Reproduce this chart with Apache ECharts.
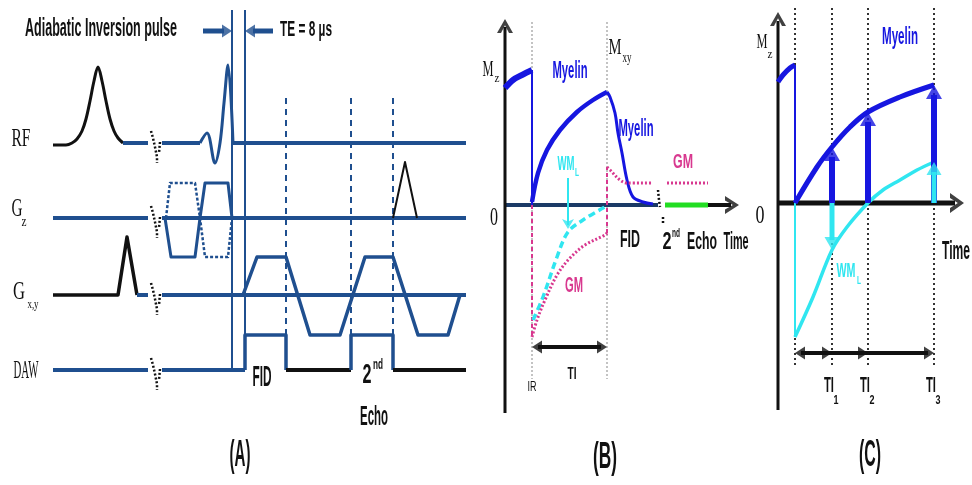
<!DOCTYPE html>
<html>
<head>
<meta charset="utf-8">
<script src="https://cdn.jsdelivr.net/npm/echarts@6/dist/echarts.min.js"></script>
<style>
  html, body { margin: 0; padding: 0; background: #fff; }
  #chart { width: 972px; height: 485px; }
</style>
</head>
<body>
<div id="chart"></div>
<script>
// ---------------- Panel A: pulse sequence, points are [time, amplitude] ----------------
const rfInversion = [[53,-2],[66,-2],[72,0],[77,4],[82,12],[86,24],[90,42],[94,62],[98,76],[102,62],[106,42],[110,24],[114,12],[118,5],[123,0]];
const rfLead      = [[123,0],[148,0]];
const rfWait      = [[162,0],[200,0]];
const rfSinc      = [[200,0],[207,10],[215,-20],[220,0],[224,40],[228,78],[233,0]];
const rfTail      = [[233,0],[466,0]];

const gzLead      = [[53,0],[148,0]];
const gzBase      = [[162,0],[466,0]];
const gzSolid     = [[165,0],[171,-39],[195,-39],[200,0],[205,35],[228,35],[232,0]];
const gzDashed    = [[166,0],[170,35],[195,35],[200,0],[205,-39],[228,-39],[232,0]];
const gzCrusher   = [[393,0],[405,56],[417,0]];

const gxyLead     = [[53,0],[118,0],[127,58],[137,0]];
const gxyLeadTail = [[137,0],[148,0]];
const gxyBase     = [[162,0],[466,0]];
const gxyReadout  = [[243,0],[257,38],[286,38],[310,-40],[340,-40],[365,38],[393,38],[418,-40],[448,-40],[460,0]];

const dawLead     = [[53,0],[148,0]];
const dawWait     = [[162,0],[245,0]];
const dawFid      = [[245,0],[245,35],[286,35],[286,0]];
const dawGap      = [[286,0],[351,0]];
const dawEcho     = [[351,0],[351,35],[393,35],[393,0]];
const dawTail     = [[393,0],[466,0]];

const teTimes     = [232, 245];
const echoTimes   = [286, 351, 393];
const breakStrokeA = [[151,12],[153,5],[155,-4],[157,-14],[157,-20]];
const breakStrokeB = [[160,1],[159,-10]];

// ---------------- Panel B: magnetization after inversion, [time, M] ----------------
const bMyelinPre  = [[0,117],[8,125],[17,130],[27,135]];
const bMyelinRec  = [[27,3],[33,32],[42,55],[55,75],[72,93],[88,105],[102,113]];
const bMyelinFid  = [[102,113],[105,108],[110,92],[113,72],[117,52],[122,25],[128,8],[138,3],[148,1]];
const bWmRec      = [[28,-115],[38,-92],[52,-52],[63,-27],[78,-15],[100,-2]];
const bGmRec      = [[27,-132],[32,-115],[40,-95],[52,-70],[65,-53],[80,-40],[100,-30],[102,-28]];
const bGmFid      = [[102,38],[107,33],[115,25],[122,22],[148,22]];
const bGmEcho     = [[162,22],[203,22]];
const bIR = 27, bTI = 102;

// ---------------- Panel C: sampling at several inversion times, [time, M] ----------------
const cMyelinPre  = [[0,121],[5,128],[12,135],[17,138]];
const cMyelinRec  = [[17,0],[39,36],[54,56],[72,76],[90,91],[122,106],[156,118]];
const cWmRec      = [[17,-134],[35,-94],[54,-47],[69,-24],[90,0],[105,13],[122,23],[139,33],[156,41]];
const cIR = 17;
const cTIs = [54, 90, 156];

// ---------------- styles ----------------
const A_BLUE = '#1f4f8f';
const INK = '#111';
const MYELIN = '#1616e0';
const CYAN = '#30e6f0';
const MAGENTA = '#d8388f';
const GREEN = '#22dd22';
const NAVY = '#1b3a66';
const CHEVRON = 'path://M0,16 L10,0 L20,16 L15,16 L10,7 L5,16 Z';

const ROW = { RF: 342, Gz: 267, Gxy: 190, DAW: 115 };
const onRow = (row, pts) => pts.map(([t, a]) => [t, ROW[row] + a]);

const series = [];
function addLine(panel, data, color, width, dash, z, smooth) {
  series.push({
    type: 'line', xAxisIndex: panel, yAxisIndex: panel, data,
    symbol: 'none', silent: true, animation: false, clip: false, z: z || 3,
    smooth: smooth || false,
    lineStyle: { color, width, type: dash || 'solid', cap: 'butt', join: 'round' }
  });
}
const curve = (panel, data, color, width, dash) => addLine(panel, data, color, width, dash, 3, 0.35);
const heads = [[], [], []];
const ROT = { up: 0, down: 180, left: 90, right: -90 };
const DIR = { up: [0, 1], down: [0, -1], left: [-1, 0], right: [1, 0] };
function addHead(panel, tip, dir, len, wid, color, shape) {
  const d = DIR[dir];
  heads[panel].push({
    value: [tip[0] - d[0] * len / 2, tip[1] - d[1] * len / 2],
    symbol: shape || 'triangle', symbolSize: [wid, len], symbolRotate: ROT[dir],
    itemStyle: { color }
  });
}

// Panel A
curve(0, onRow('RF', rfInversion), INK, 3);
addLine(0, onRow('RF', rfLead), A_BLUE, 4);
addLine(0, onRow('RF', rfWait), A_BLUE, 4);
curve(0, onRow('RF', rfSinc), A_BLUE, 3);
addLine(0, onRow('RF', rfTail), A_BLUE, 4);
addLine(0, onRow('Gz', gzLead), A_BLUE, 4);
addLine(0, onRow('Gz', gzBase), A_BLUE, 4);
addLine(0, onRow('Gz', gzSolid), A_BLUE, 3);
addLine(0, onRow('Gz', gzDashed), A_BLUE, 2.5, [3, 2]);
addLine(0, onRow('Gz', gzCrusher), INK, 2);
addLine(0, onRow('Gxy', gxyLead), INK, 3.5);
addLine(0, onRow('Gxy', gxyLeadTail), A_BLUE, 4);
addLine(0, onRow('Gxy', gxyBase), A_BLUE, 4);
addLine(0, onRow('Gxy', gxyReadout), A_BLUE, 3.5);
addLine(0, onRow('DAW', dawLead), A_BLUE, 4);
addLine(0, onRow('DAW', dawWait), A_BLUE, 4);
addLine(0, onRow('DAW', dawFid), A_BLUE, 3.5);
addLine(0, onRow('DAW', dawGap), INK, 4);
addLine(0, onRow('DAW', dawEcho), A_BLUE, 3.5);
addLine(0, onRow('DAW', dawTail), INK, 4);
teTimes.forEach(t => addLine(0, [[t, 475], [t, ROW.DAW]], A_BLUE, 2));
echoTimes.forEach(t => addLine(0, [[t, 387], [t, ROW.DAW + 35]], A_BLUE, 2, [6, 5], 2));
Object.keys(ROW).forEach(r => {
  addLine(0, onRow(r, breakStrokeA), INK, 2.5, [2, 2]);
  addLine(0, onRow(r, breakStrokeB), INK, 2.5, [2, 2]);
});
addLine(0, [[203, 454], [224, 454]], A_BLUE, 5);
addHead(0, [232, 454], 'right', 10, 13, A_BLUE);
addLine(0, [[273, 454], [253, 454]], A_BLUE, 5);
addHead(0, [245, 454], 'left', 10, 13, A_BLUE);

// Panel B
[bIR, bTI].forEach(t => addLine(1, [[t, 183], [t, -174]], '#888', 1, [2, 2], 1));
addLine(1, [[0, -208], [0, 178]], INK, 3);
addHead(1, [0, 186], 'up', 14, 16, INK, CHEVRON);
addLine(1, [[0, 0], [153, 0]], NAVY, 4, 'solid', 2);
addLine(1, [[160, 0], [203, 0]], GREEN, 5);
addLine(1, [[203, 0], [226, 0]], INK, 4);
addHead(1, [234, 0], 'right', 14, 18, INK, CHEVRON);
addLine(1, [[153, 15], [154, 5], [155, -2]], INK, 2.5, [2, 2]);
addLine(1, [[158, -12], [158, -19]], INK, 2.5, [2, 2]);
curve(1, bMyelinPre, MYELIN, 6);
addLine(1, [[bIR, 135], [bIR, 0]], MYELIN, 2);
curve(1, bMyelinRec, MYELIN, 4.5);
curve(1, bMyelinFid, MYELIN, 3);
addLine(1, [[bIR, 0], [bIR, -132]], MAGENTA, 2, [4, 3]);
curve(1, bWmRec, CYAN, 3.5, [7, 4]);
curve(1, bGmRec, MAGENTA, 3, [2, 2]);
addLine(1, [[bTI, -28], [bTI, 38]], MAGENTA, 2, [4, 3]);
curve(1, bGmFid, MAGENTA, 3, [2, 2]);
addLine(1, bGmEcho, MAGENTA, 3, [2, 2]);
addLine(1, [[63, 27], [63, -20]], CYAN, 2);
addHead(1, [63, -29], 'down', 10, 9, CYAN, 'arrow');
addLine(1, [[bIR + 6, -142], [bTI - 6, -142]], INK, 4);
addHead(1, [bIR, -142], 'left', 10, 13, INK);
addHead(1, [bTI, -142], 'right', 10, 13, INK);

// Panel C
[cIR].concat(cTIs).forEach(t => addLine(2, [[t, 195], [t, -164]], '#333', 2, [2, 3], 1));
addLine(2, [[0, -207], [0, 182]], INK, 3);
addHead(2, [0, 191], 'up', 14, 16, INK, CHEVRON);
addLine(2, [[0, 0], [177, 0]], INK, 5, 'solid', 2);
addHead(2, [186, 0], 'right', 14, 20, INK, CHEVRON);
curve(2, cMyelinPre, MYELIN, 5);
addLine(2, [[cIR, 138], [cIR, 0]], MYELIN, 2);
addLine(2, [[cIR, 0], [cIR, -134]], CYAN, 2);
curve(2, cMyelinRec, MYELIN, 5);
curve(2, cWmRec, CYAN, 3.5);
const valueAt = (pts, t) => pts.find(p => p[0] === t)[1];
cTIs.forEach(t => {
  const m = valueAt(cMyelinRec, t);
  addLine(2, [[t, 0], [t, m - 10]], MYELIN, 6, 'solid', 4);
  addHead(2, [t, m], 'up', 14, 16, MYELIN);
});
[cTIs[0], cTIs[2]].forEach(t => {
  const w = valueAt(cWmRec, t);
  const dir = w < 0 ? 'down' : 'up';
  addLine(2, [[t, 0], [t, w - Math.sign(w) * 10]], CYAN, 5, 'solid', 5);
  addHead(2, [t, w], dir, 13, 15, CYAN);
});
addLine(2, [[cIR + 6, -150], [cTIs[2] - 6, -150]], INK, 4);
addHead(2, [cIR, -150], 'left', 10, 13, INK);
cTIs.forEach(t => addHead(2, [t, -150], 'right', 10, 13, INK));

heads.forEach((data, panel) => series.push({
  type: 'scatter', xAxisIndex: panel, yAxisIndex: panel, data,
  silent: true, animation: false, clip: false, z: 6
}));

// ---------------- labels ----------------
const meas = document.createElement('canvas').getContext('2d');
const SANS = '"Liberation Sans", Arial, sans-serif';
const SERIF = '"Liberation Serif", "Times New Roman", serif';
function label(str, cx, cy, size, width, opt) {
  opt = opt || {};
  const weight = opt.weight || (opt.serif ? 'normal' : 'bold');
  const family = opt.serif ? SERIF : SANS;
  meas.font = weight + ' ' + size + 'px ' + family;
  const sx = width / meas.measureText(str).width;
  return {
    type: 'text', x: cx, y: cy, scaleX: sx, silent: true, z: 10,
    style: {
      text: str, fontSize: size, fontFamily: family, fontWeight: weight,
      fill: opt.color || INK, align: 'center', verticalAlign: 'middle'
    }
  };
}
const serif = { serif: true };
const texts = [
  // Panel A
  label('Adiabatic Inversion pulse', 101, 29, 25, 152),
  label('TE = 8 µs', 306, 30, 22, 52),
  label('RF', 21, 139, 26, 19, serif),
  label('G', 17, 209, 26, 11, serif),
  label('z', 24, 222, 14, 5, serif),
  label('G', 19, 292, 26, 12, serif),
  label('x,y', 33, 305, 13, 11, serif),
  label('DAW', 26, 371, 26, 25, serif),
  label('FID', 262, 378, 30, 19),
  label('2', 367, 375, 28, 9),
  label('nd', 378, 365, 14, 10),
  label('Echo', 374, 417, 28, 28),
  label('(A)', 240, 456, 36, 21),
  // Panel B
  label('M', 488, 70, 24, 11, serif),
  label('z', 497, 79, 13, 5, serif),
  label('0', 494, 218, 26, 8, serif),
  label('Myelin', 570, 71, 24, 35, { color: MYELIN }),
  label('M', 615, 48, 24, 13, serif),
  label('xy', 627, 58, 14, 9, serif),
  label('Myelin', 636, 129, 24, 35, { color: MYELIN }),
  label('WM', 566, 164, 20, 17, { color: CYAN }),
  label('L', 577, 173, 11, 4, { color: CYAN }),
  label('GM', 683, 162, 20, 20, { color: MAGENTA }),
  label('GM', 574, 286, 22, 18, { color: MAGENTA }),
  label('FID', 630, 240, 24, 20),
  label('2', 667, 242, 24, 9),
  label('nd', 676, 234, 12, 8),
  label('Echo', 702, 242, 24, 30),
  label('Time', 736, 242, 24, 25),
  label('TI', 572, 375, 16, 9),
  label('IR', 532, 387, 15, 9, { weight: 'normal' }),
  label('(B)', 605, 458, 36, 24),
  // Panel C
  label('M', 762, 42, 22, 11, serif),
  label('z', 770, 55, 13, 5, serif),
  label('0', 760, 216, 26, 9, serif),
  label('Myelin', 900, 37, 24, 36, { color: MYELIN }),
  label('Time', 956, 252, 26, 28),
  label('WM', 846, 271, 20, 19, { color: CYAN }),
  label('L', 859, 281, 11, 4, { color: CYAN }),
  label('TI', 829, 386, 22, 10),
  label('1', 836, 401, 12, 5),
  label('TI', 865, 386, 22, 10),
  label('2', 872, 401, 12, 5),
  label('TI', 931, 386, 22, 10),
  label('3', 938, 401, 12, 5),
  label('(C)', 870, 456, 36, 22)
];

// ---------------- chart ----------------
const hidden = { show: false };
function axisPair(min, max) {
  return { type: 'value', min, max, show: false, splitLine: hidden, axisLine: hidden, axisTick: hidden, axisLabel: hidden };
}
const chart = echarts.init(document.getElementById('chart'), null, { renderer: 'canvas' });
chart.setOption({
  backgroundColor: '#fff',
  animation: false,
  grid: [
    { left: 0, top: 0, width: 480, height: 485 },
    { left: 480, top: 0, width: 270, height: 485 },
    { left: 750, top: 0, width: 222, height: 485 }
  ],
  xAxis: [axisPair(0, 480), axisPair(-25, 245), axisPair(-28, 194)].map((a, i) => Object.assign(a, { gridIndex: i })),
  yAxis: [axisPair(0, 485), axisPair(-280, 205), axisPair(-282, 203)].map((a, i) => Object.assign(a, { gridIndex: i })),
  series,
  graphic: texts
});
</script>
</body>
</html>
